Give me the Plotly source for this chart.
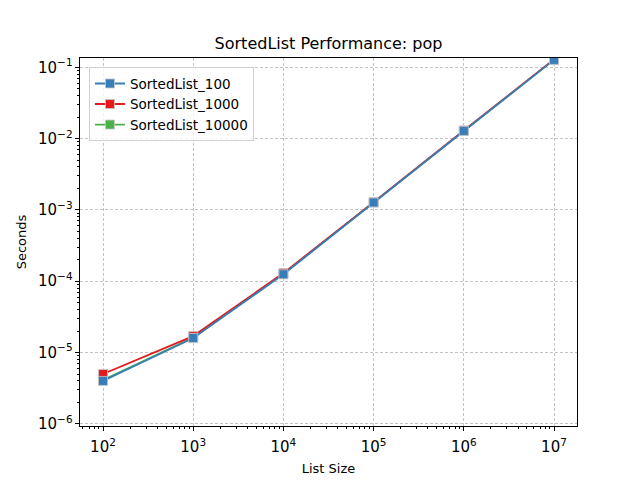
import plotly.graph_objects as go

sizes = [1e2, 1e3, 1e4, 1e5, 1e6, 1e7]
series_names = ["SortedList_100", "SortedList_1000", "SortedList_10000"]
secs_100 = [4.0e-6, 1.6e-5, 1.25e-4, 1.27e-3, 1.28e-2, 1.27e-1]
secs_1000 = [5.0e-6, 1.7e-5, 1.3e-4, 1.28e-3, 1.30e-2, 1.29e-1]
secs_10000 = [4.1e-6, 1.62e-5, 1.27e-4, 1.27e-3, 1.29e-2, 1.28e-1]
colors = ["#377eb8", "#e41a1c", "#4daf4a"]

fig = go.Figure()
# draw green first, blue last so blue sits on top like the reference
for rank, name, ys, col in [(3, series_names[2], secs_10000, colors[2]),
                            (2, series_names[1], secs_1000, colors[1]),
                            (1, series_names[0], secs_100, colors[0])]:
    fig.add_trace(go.Scatter(x=sizes, y=ys, name=name, mode="lines+markers",
                             legendrank=rank,
                             line=dict(color=col, width=1.8),
                             marker=dict(symbol="square", size=9, color=col,
                                         line=dict(color="rgba(200,200,200,0.8)", width=1))))

axis_common = dict(type="log", dtick=1, exponentformat="power", automargin=False,
                   showline=True, linecolor="black", linewidth=1, mirror=True,
                   ticks="outside", ticklen=4, tickcolor="black",
                   showgrid=True, gridcolor="#c4c4c4", griddash="3px,2px", gridwidth=0.6,
                   zeroline=False,
                   minor=dict(ticks="outside", ticklen=2, tickcolor="black",
                              dtick="D1", showgrid=False),
                   tickfont=dict(size=12, color="black"))

# page body adds an 8px offset, so margins are shifted to compensate
fig.update_layout(
    width=640, height=480,
    paper_bgcolor="white", plot_bgcolor="white",
    font=dict(family="DejaVu Sans", color="black"),
    title=dict(text="SortedList Performance: pop", xref="paper", x=0.5, xanchor="center",
               y=1 - 35 / 480, yanchor="middle", font=dict(size=16)),
    margin=dict(l=72, r=71, t=50, b=62),
    xaxis=dict(axis_common, ticklabelstandoff=4,
               title=dict(text="List Size", standoff=8, font=dict(size=13)),
               range=[1.745, 7.255]),
    yaxis=dict(axis_common, title=dict(text="Seconds", standoff=8, font=dict(size=13)),
               range=[-6.03, -0.87]),
    legend=dict(x=0.018, y=0.975, xanchor="left", yanchor="top",
                bgcolor="rgba(255,255,255,0.8)", bordercolor="#d0d0d0",
                borderwidth=1, font=dict(size=13.5)),
)

fig.write_html("out.html")
